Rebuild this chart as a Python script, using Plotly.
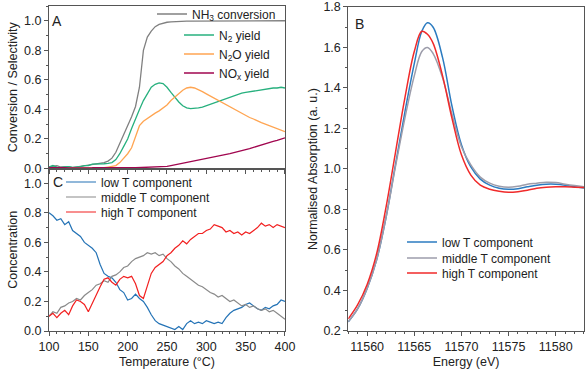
import plotly.graph_objects as go

# ---- panel A: conversion / yields vs temperature ----
temp_a = list(range(100, 401, 5))
nh3_conv = [0.01, 0.015, 0.02, 0.01, 0.01, 0.012, 0.006, 0.01, 0.012, 0.015,
            0.02, 0.028, 0.03, 0.035, 0.04, 0.05, 0.07, 0.11, 0.17, 0.22,
            0.28, 0.35, 0.42, 0.55, 0.80, 0.89, 0.93, 0.96, 0.975, 0.985,
            0.99, 0.993, 0.995, 0.996, 0.997, 0.997, 0.998, 0.998, 0.998, 0.999,
            0.999, 0.999, 0.999, 1.0, 1.0, 1.0, 1.0, 1.0, 1.0, 1.0,
            1.0, 1.0, 1.0, 1.0, 1.0, 1.0, 1.0, 1.0, 1.0, 1.0, 1.0]
n2_yield = [0.01, 0.02, 0.01, 0.005, 0.01, 0.012, 0.008, 0.01, 0.012, 0.02,
            0.02, 0.03, 0.03, 0.028, 0.032, 0.035, 0.04, 0.06, 0.10, 0.15,
            0.20, 0.27, 0.34, 0.40, 0.46, 0.51, 0.55, 0.57, 0.58, 0.575,
            0.55, 0.515, 0.48, 0.45, 0.425, 0.41, 0.405, 0.405, 0.41, 0.415,
            0.425, 0.435, 0.445, 0.455, 0.465, 0.475, 0.485, 0.495, 0.50, 0.51,
            0.515, 0.52, 0.525, 0.53, 0.535, 0.54, 0.54, 0.545, 0.545, 0.55, 0.545]
n2o_yield = [0.0, 0.0, 0.0, 0.0, 0.0, 0.0, 0.0, 0.0, 0.0, 0.0,
             0.0, 0.0, 0.0, 0.002, 0.005, 0.01, 0.015, 0.02, 0.04, 0.07,
             0.10, 0.14, 0.22, 0.29, 0.32, 0.34, 0.36, 0.375, 0.39, 0.41,
             0.43, 0.46, 0.485, 0.51, 0.53, 0.545, 0.55, 0.545, 0.535, 0.52,
             0.505, 0.49, 0.475, 0.46, 0.445, 0.43, 0.415, 0.40, 0.385, 0.37,
             0.355, 0.345, 0.335, 0.32, 0.31, 0.30, 0.29, 0.28, 0.27, 0.26, 0.25]
nox_yield = [0.005, 0.006, 0.004, 0.005, 0.006, 0.004, 0.005, 0.005, 0.006, 0.004,
             0.005, 0.005, 0.006, 0.004, 0.005, 0.005, 0.006, 0.005, 0.004, 0.005,
             0.006, 0.005, 0.005, 0.006, 0.005, 0.006, 0.007, 0.008, 0.009, 0.012,
             0.015, 0.02, 0.025, 0.03, 0.035, 0.04, 0.048, 0.054, 0.06, 0.063,
             0.065, 0.07, 0.075, 0.082, 0.088, 0.094, 0.10, 0.107, 0.113, 0.12,
             0.128, 0.135, 0.143, 0.152, 0.16, 0.167, 0.175, 0.183, 0.19, 0.2, 0.208]

# ---- panel C: component concentrations vs temperature ----
temp_c = list(range(100, 401, 5))
low_t = [0.80, 0.78, 0.75, 0.76, 0.72, 0.74, 0.68, 0.66, 0.64, 0.60,
         0.58, 0.56, 0.53, 0.45, 0.39, 0.37, 0.36, 0.33, 0.28, 0.26,
         0.21, 0.22, 0.25, 0.22, 0.20, 0.16, 0.11, 0.07, 0.05, 0.04,
         0.03, 0.02, 0.01, 0.03, 0.01, 0.05, 0.07, 0.05, 0.06, 0.05,
         0.07, 0.06, 0.05, 0.06, 0.05, 0.09, 0.12, 0.14, 0.15, 0.16,
         0.18, 0.19, 0.17, 0.15, 0.14, 0.16, 0.15, 0.17, 0.18, 0.21, 0.20]
middle_t = [0.10, 0.13, 0.12, 0.16, 0.17, 0.19, 0.20, 0.22, 0.21, 0.24,
            0.26, 0.28, 0.31, 0.32, 0.34, 0.33, 0.37, 0.38, 0.40, 0.43,
            0.44, 0.47, 0.49, 0.50, 0.51, 0.53, 0.52, 0.53, 0.51, 0.52,
            0.49, 0.47, 0.44, 0.42, 0.39, 0.37, 0.35, 0.33, 0.31, 0.30,
            0.28, 0.26, 0.25, 0.23, 0.24, 0.22, 0.20, 0.21, 0.19, 0.17,
            0.18, 0.16, 0.17, 0.15, 0.14, 0.15, 0.13, 0.14, 0.12, 0.10, 0.08]
high_t = [0.10, 0.12, 0.09, 0.12, 0.14, 0.11, 0.17, 0.21, 0.20, 0.18,
          0.13, 0.19, 0.25, 0.30, 0.35, 0.36, 0.33, 0.31, 0.35, 0.37,
          0.36, 0.37, 0.32, 0.24, 0.22, 0.30, 0.39, 0.43, 0.45, 0.47,
          0.51, 0.53, 0.56, 0.58, 0.61, 0.59, 0.62, 0.64, 0.66, 0.66,
          0.68, 0.69, 0.72, 0.71, 0.70, 0.67, 0.68, 0.66, 0.67, 0.65,
          0.67, 0.66, 0.68, 0.70, 0.73, 0.71, 0.72, 0.70, 0.72, 0.71, 0.70]

# ---- panel B: XANES spectra of the components ----
energy = [11558, 11559, 11560, 11561, 11562, 11563, 11564, 11565, 11565.8, 11566.4,
          11567, 11568, 11569, 11570, 11571, 11572, 11573, 11574, 11575, 11576,
          11577, 11578, 11579, 11580, 11581, 11582, 11583]
abs_low = [0.245, 0.31, 0.41, 0.55, 0.76, 1.02, 1.28, 1.52, 1.68, 1.722,
           1.70, 1.55, 1.31, 1.12, 1.01, 0.95, 0.92, 0.905, 0.90, 0.903,
           0.912, 0.92, 0.925, 0.925, 0.92, 0.912, 0.906]
abs_mid = [0.245, 0.31, 0.41, 0.55, 0.76, 1.01, 1.25, 1.46, 1.58, 1.60,
           1.57, 1.45, 1.27, 1.11, 1.02, 0.96, 0.93, 0.915, 0.91, 0.915,
           0.925, 0.93, 0.935, 0.933, 0.925, 0.918, 0.912]
abs_high = [0.26, 0.33, 0.43, 0.58, 0.81, 1.08, 1.35, 1.58, 1.68, 1.665,
            1.62, 1.46, 1.25, 1.07, 0.97, 0.92, 0.90, 0.89, 0.885, 0.888,
            0.895, 0.905, 0.91, 0.912, 0.912, 0.91, 0.908]

FONT = "Liberation Sans, Arial, sans-serif"
W, H = 586, 374
ML, MR, MT, MB = 49, 2, 6, 43
PW, PH = W - ML - MR, H - MT - MB
AXCOL = "#555555"

fig = go.Figure()


def fx(px):
    return (px - ML) / PW


def fy(py):
    return (H - MB - py) / PH


def legend_at(px, py):
    return dict(x=fx(px), y=fy(py), xref="paper", yref="paper",
                xanchor="left", yanchor="middle", bgcolor="rgba(0,0,0,0)",
                font=dict(family=FONT, size=12, color="#222"))


def label_at(text, px, py):
    return dict(text=text, x=fx(px), y=fy(py),
                xref="paper", yref="paper", showarrow=False,
                xanchor="center", yanchor="middle",
                font=dict(family=FONT, size=14, color="#222"))


legends = {}
a_traces = [
    ("NH<sub>3</sub> conversion", nh3_conv, "#808080", (152, 14)),
    ("N<sub>2</sub> yield", n2_yield, "#27b07e", (179, 35)),
    ("N<sub>2</sub>O yield", n2o_yield, "#ffa552", (179, 54)),
    ("NO<sub>x</sub> yield", nox_yield, "#a1064f", (179, 73)),
]
n = 1
for name, ys, col, pos in a_traces:
    lg = "legend" if n == 1 else f"legend{n}"
    legends[lg] = legend_at(*pos)
    fig.add_trace(go.Scatter(x=temp_a, y=ys, name=name, mode="lines",
                             line=dict(color=col, width=1.3),
                             xaxis="x", yaxis="y", legend=lg))
    n += 1

c_traces = [
    ("low T component", low_t, "#2473b6", (61, 182)),
    ("middle T component", middle_t, "#8a8a8a", (61, 197)),
    ("high T component", high_t, "#f22020", (61, 212)),
]
for name, ys, col, pos in c_traces:
    lg = f"legend{n}"
    legends[lg] = legend_at(*pos)
    fig.add_trace(go.Scatter(x=temp_c, y=ys, name=name, mode="lines",
                             line=dict(color=col, width=1.2),
                             xaxis="x2", yaxis="y2", legend=lg))
    n += 1

b_traces = [
    ("low T component", abs_low, "#2b7bc0", (402, 242)),
    ("middle T component", abs_mid, "#9d9dab", (402, 258)),
    ("high T component", abs_high, "#f02a2a", (402, 273)),
]
for name, ys, col, pos in b_traces:
    lg = f"legend{n}"
    legends[lg] = legend_at(*pos)
    fig.add_trace(go.Scatter(x=energy, y=ys, name=name, mode="lines",
                             line=dict(color=col, width=1.5, shape="spline", smoothing=1.0),
                             xaxis="x3", yaxis="y3", legend=lg))
    n += 1


def axis(**kw):
    base = dict(showline=True, linecolor=AXCOL, linewidth=1, mirror=True,
                ticks="outside", ticklen=4, tickcolor=AXCOL, showgrid=False,
                zeroline=False, automargin=False,
                tickfont=dict(family=FONT, size=12.5, color="#222"),
                title_font=dict(family=FONT, size=12.5, color="#222"))
    base.update(kw)
    return base


fig.update_layout(
    width=W, height=H,
    margin=dict(l=ML, r=MR, t=MT, b=MB, autoexpand=False),
    paper_bgcolor="white", plot_bgcolor="white",
    font=dict(family=FONT, size=12, color="#222"),
    showlegend=True,
    xaxis=axis(domain=[0, 0.4411], range=[100, 400], anchor="y", dtick=50,
               showticklabels=False,
               minor=dict(ticks="outside", dtick=10, ticklen=2, tickcolor=AXCOL)),
    yaxis=axis(domain=[0.5, 1], range=[0, 1.1], anchor="x", dtick=0.2, tick0=0,
               tickformat=".1f", title=dict(text="Conversion / Selectivity", standoff=3),
               minor=dict(ticks="outside", dtick=0.1, ticklen=2, tickcolor=AXCOL)),
    xaxis2=axis(domain=[0, 0.4411], range=[100, 400], anchor="y2", dtick=50,
                title=dict(text="Temperature (°C)", standoff=4),
                minor=dict(ticks="outside", dtick=10, ticklen=2, tickcolor=AXCOL)),
    yaxis2=axis(domain=[0, 0.5], range=[0, 1.1], anchor="x2", dtick=0.2, tick0=0,
                tickformat=".1f", title=dict(text="Concentration", standoff=3),
                minor=dict(ticks="outside", dtick=0.1, ticklen=2, tickcolor=AXCOL)),
    xaxis3=axis(domain=[0.5594, 1], range=[11558, 11583], anchor="y3", dtick=5,
                tickformat="d", title=dict(text="Energy (eV)", standoff=4),
                minor=dict(ticks="outside", dtick=1, ticklen=2, tickcolor=AXCOL)),
    yaxis3=axis(domain=[0, 0.997], range=[0.2, 1.8], anchor="x3", dtick=0.2, tick0=0.2,
                tickformat=".1f", title=dict(text="Normalised Absorption (a. u.)", standoff=3),
                minor=dict(ticks="outside", dtick=0.1, ticklen=2, tickcolor=AXCOL)),
    annotations=[
        label_at("A", 57, 21),
        label_at("C", 58, 182),
        label_at("B", 359, 24),
    ],
)
fig.update_layout(**legends)

# the page body has an 8px default margin; drop it so the figure sits at (0, 0)
fig.write_html("out.html", config={"displayModeBar": False},
               post_script="document.body.style.margin='0';")
